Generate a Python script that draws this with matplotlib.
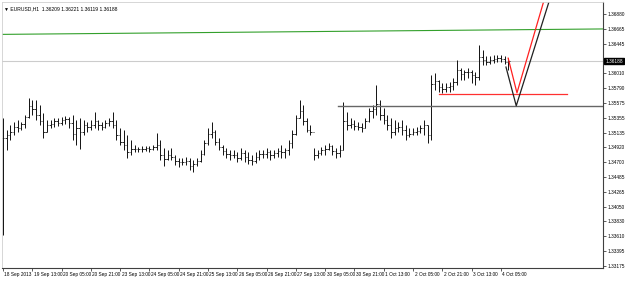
import numpy as np
import matplotlib
matplotlib.use('Agg')
import matplotlib.pyplot as plt
import matplotlib.transforms as mtransforms

plt.rcParams['font.family'] = ['Liberation Sans', 'DejaVu Sans']

# EURUSD H1 bars, sampled every 2 hours (high, low, close)
highs = [1.3535, 1.3517, 1.3525, 1.3529, 1.3532, 1.3529, 1.3540, 1.3564, 1.3562, 1.3562,
         1.3554, 1.3543, 1.3532, 1.3532, 1.3535, 1.3535, 1.3537, 1.3538, 1.3537, 1.3540,
         1.3532, 1.3535, 1.3532, 1.3529, 1.3532, 1.3544, 1.3532, 1.3529, 1.3532, 1.3535,
         1.3544, 1.3532, 1.3520, 1.3517, 1.3510, 1.3503, 1.3495, 1.3493, 1.3494, 1.3494,
         1.3494, 1.3495, 1.3513, 1.3503, 1.3491, 1.3488, 1.3491, 1.3481, 1.3476, 1.3476,
         1.3478, 1.3476, 1.3473, 1.3476, 1.3488, 1.3503, 1.3520, 1.3529, 1.3517, 1.3506,
         1.3495, 1.3491, 1.3488, 1.3488, 1.3485, 1.3491, 1.3488, 1.3485, 1.3481, 1.3485,
         1.3488, 1.3488, 1.3491, 1.3488, 1.3488, 1.3491, 1.3495, 1.3491, 1.3503, 1.3517,
         1.3540, 1.3562, 1.3554, 1.3535, 1.3525, 1.3491, 1.3488, 1.3493, 1.3495, 1.3498,
         1.3495, 1.3491, 1.3495, 1.3559, 1.3544, 1.3535, 1.3532, 1.3529, 1.3528, 1.3535,
         1.3550, 1.3554, 1.3584, 1.3562, 1.3550, 1.3540, 1.3535, 1.3532, 1.3529, 1.3532,
         1.3525, 1.3520, 1.3520, 1.3522, 1.3525, 1.3532, 1.3525, 1.3598, 1.3601, 1.3591,
         1.3587, 1.3587, 1.3588, 1.3594, 1.3620, 1.3609, 1.3606, 1.3609, 1.3606, 1.3603,
         1.3642, 1.3635, 1.3626, 1.3626, 1.3628, 1.3628, 1.3628, 1.3626, 1.3623]
lows = [1.3363, 1.3488, 1.3503, 1.3510, 1.3514, 1.3517, 1.3521, 1.3535, 1.3540, 1.3532,
        1.3525, 1.3506, 1.3514, 1.3520, 1.3522, 1.3523, 1.3525, 1.3526, 1.3520, 1.3503,
        1.3495, 1.3490, 1.3510, 1.3514, 1.3517, 1.3520, 1.3517, 1.3517, 1.3520, 1.3523,
        1.3520, 1.3503, 1.3495, 1.3488, 1.3476, 1.3481, 1.3485, 1.3485, 1.3485, 1.3487,
        1.3485, 1.3488, 1.3488, 1.3473, 1.3464, 1.3473, 1.3473, 1.3466, 1.3463, 1.3466,
        1.3466, 1.3459, 1.3456, 1.3464, 1.3470, 1.3481, 1.3495, 1.3506, 1.3495, 1.3488,
        1.3481, 1.3476, 1.3473, 1.3476, 1.3470, 1.3473, 1.3470, 1.3467, 1.3466, 1.3469,
        1.3473, 1.3476, 1.3476, 1.3473, 1.3476, 1.3478, 1.3476, 1.3476, 1.3481, 1.3491,
        1.3510, 1.3535, 1.3525, 1.3514, 1.3510, 1.3473, 1.3476, 1.3481, 1.3481, 1.3488,
        1.3481, 1.3476, 1.3478, 1.3488, 1.3517, 1.3520, 1.3517, 1.3517, 1.3514, 1.3520,
        1.3529, 1.3535, 1.3540, 1.3532, 1.3526, 1.3517, 1.3506, 1.3510, 1.3514, 1.3510,
        1.3503, 1.3507, 1.3510, 1.3510, 1.3513, 1.3510, 1.3498, 1.3503, 1.3576, 1.3573,
        1.3572, 1.3573, 1.3573, 1.3576, 1.3584, 1.3591, 1.3591, 1.3594, 1.3587, 1.3584,
        1.3591, 1.3613, 1.3613, 1.3614, 1.3616, 1.3617, 1.3617, 1.3614, 1.3606]
closes = [1.3505, 1.3510, 1.3515, 1.3522, 1.3520, 1.3526, 1.3537, 1.3552, 1.3548, 1.3540,
          1.3530, 1.3515, 1.3525, 1.3527, 1.3530, 1.3528, 1.3532, 1.3534, 1.3528, 1.3512,
          1.3520, 1.3515, 1.3525, 1.3522, 1.3525, 1.3530, 1.3525, 1.3522, 1.3528, 1.3530,
          1.3525, 1.3510, 1.3500, 1.3495, 1.3485, 1.3490, 1.3490, 1.3489, 1.3490, 1.3491,
          1.3490, 1.3493, 1.3495, 1.3480, 1.3475, 1.3480, 1.3478, 1.3472, 1.3470, 1.3470,
          1.3472, 1.3465, 1.3468, 1.3472, 1.3482, 1.3498, 1.3512, 1.3515, 1.3500, 1.3492,
          1.3486, 1.3482, 1.3480, 1.3481, 1.3476, 1.3484, 1.3478, 1.3474, 1.3472, 1.3478,
          1.3482, 1.3482, 1.3485, 1.3480, 1.3483, 1.3486, 1.3485, 1.3488, 1.3498, 1.3512,
          1.3535, 1.3545, 1.3530, 1.3518, 1.3515, 1.3480, 1.3483, 1.3488, 1.3490, 1.3494,
          1.3487, 1.3484, 1.3488, 1.3530, 1.3525, 1.3526, 1.3524, 1.3522, 1.3520, 1.3530,
          1.3545, 1.3548, 1.3555, 1.3540, 1.3532, 1.3525, 1.3515, 1.3520, 1.3522, 1.3518,
          1.3510, 1.3512, 1.3515, 1.3516, 1.3520, 1.3525, 1.3510, 1.3585, 1.3590, 1.3580,
          1.3578, 1.3580, 1.3582, 1.3588, 1.3605, 1.3600, 1.3602, 1.3603, 1.3598, 1.3595,
          1.3625, 1.3620, 1.3618, 1.3620, 1.3622, 1.3623, 1.3622, 1.3618, 1.3619]

date_labels = ['18 Sep 2013', '19 Sep 13:00', '20 Sep 05:00', '20 Sep 21:00', '23 Sep 13:00',
               '24 Sep 05:00', '24 Sep 21:00', '25 Sep 13:00', '26 Sep 05:00', '26 Sep 21:00',
               '27 Sep 13:00', '30 Sep 05:00', '30 Sep 21:00', '1 Oct 13:00', '2 Oct 05:00',
               '2 Oct 21:00', '3 Oct 13:00', '4 Oct 05:00']
price_ticks = [1.36880, 1.36665, 1.36445, 1.36230, 1.36010, 1.35790, 1.35575, 1.35355,
               1.35135, 1.34920, 1.34700, 1.34485, 1.34265, 1.34050, 1.33830, 1.33610,
               1.33395, 1.33175]
last_price = 1.36188
header = 'EURUSD,H1  1.36209 1.36221 1.36119 1.36188'

# drawn objects (bar index, price)
green_line = ([-0.3, 164.0], [1.3658, 1.3666])
support_line = ([91.5, 164.0], [1.3553, 1.3553])
red_level = ([119.0, 154.0], [1.3570, 1.3570])
black_path = ([137.4, 140.2, 149.5], [1.3610, 1.3553, 1.3712])
red_path = ([138.0, 140.4, 148.0], [1.3623, 1.3572, 1.3712])

fig = plt.figure(figsize=(6.25, 2.82), dpi=100)
ax = fig.add_axes([2 / 625, 14 / 282, 601 / 625, 266 / 282])

x = np.arange(len(highs))
ax.vlines(x, lows, highs, color='#111111', linewidth=0.7)
opens = [closes[0]] + closes[:-1]
ax.hlines(opens, x - 0.4, x, color='#111111', linewidth=0.6)
ax.hlines(closes, x, x + 0.4, color='#111111', linewidth=0.6)

ax.axhline(last_price, color='#cccccc', linewidth=0.8, zorder=0)
ax.plot(*green_line, color='#33a02c', linewidth=0.8)
ax.plot(*support_line, color='#666666', linewidth=1.0)
ax.plot(*red_level, color='#ff3030', linewidth=0.9)
ax.plot(*black_path, color='#202020', linewidth=0.9)
ax.plot(*red_path, color='#ff2020', linewidth=0.9)

ax.set_xlim(-0.27, 163.9)
ax.set_ylim(1.33146, 1.37056)

ax.yaxis.tick_right()
ax.set_yticks(price_ticks)
# the label under the last-price box is hidden in the terminal
ax.set_yticklabels(['' if abs(p - last_price) < 0.0008 else '%.5f' % p for p in price_ticks])
ax.set_xticks(np.arange(len(date_labels)) * 8)
ax.set_xticklabels(date_labels, ha='left')
ax.tick_params(axis='both', labelsize=3.4, length=2.0, width=0.6, color='#404040',
               pad=1.0, direction='out')
shift = mtransforms.ScaledTranslation(1.5 / 100, 0, fig.dpi_scale_trans)
for lab in ax.get_xticklabels():
    lab.set_transform(lab.get_transform() + shift)
for s in ['left', 'top']:
    ax.spines[s].set_color('#d0d0d0')
    ax.spines[s].set_linewidth(0.6)
for s in ['right', 'bottom']:
    ax.spines[s].set_color('#404040')
    ax.spines[s].set_linewidth(0.8)

ax.text(1.0035, last_price, '%.5f' % last_price, transform=ax.get_yaxis_transform(),
        fontsize=3.4, color='white', va='center', ha='left',
        bbox=dict(boxstyle='square,pad=0.2', fc='black', ec='black'))
ax.text(0.004, 0.985, '\u25bc ' + header, transform=ax.transAxes, fontsize=3.6,
        va='top', ha='left', color='black', family=['Liberation Sans', 'DejaVu Sans'])

fig.savefig('out.png', dpi=100, facecolor='white')
